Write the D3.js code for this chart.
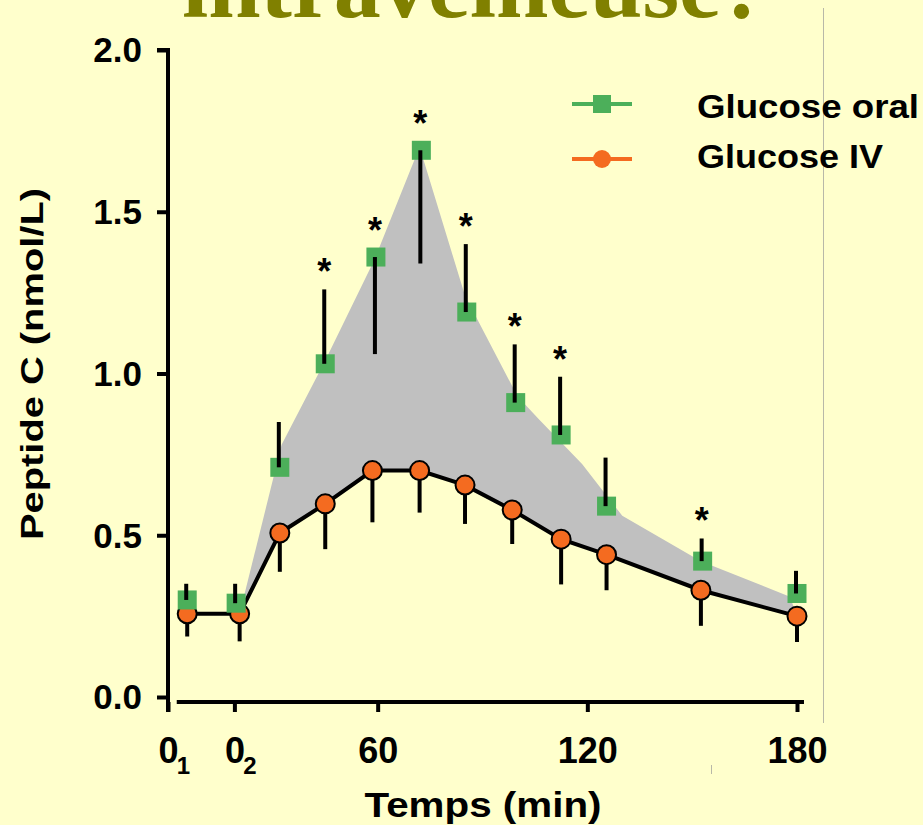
<!DOCTYPE html>
<meta charset="utf-8" />
<style>
  body { margin: 0; background: #ffffcc; }
  svg { display: block; }
  text { font-family: "Liberation Sans", Arial, sans-serif; font-weight: bold; }
</style>
<body>
  <div id="grafico"></div>
  <script src="https://cdn.jsdelivr.net/npm/d3@7"></script>
  <script>
    // temps (min) de chaque prelevement, valeurs en nmol/L
    var oralTimes = [5.5, 19.5, 32, 45, 59.5, 72.5, 85.5, 99.5, 112.5, 125.5, 153, 180];
    var oralMean = [0.30, 0.29, 0.71, 1.03, 1.36, 1.69, 1.19, 0.91, 0.81, 0.59, 0.42, 0.32];
    var oralErr = [0.05, 0.06, 0.14, 0.23, -0.30, -0.35, 0.21, 0.18, 0.18, 0.15, 0.07, 0.07];
    var oralSig = [0, 0, 0, 1, 1, 1, 1, 1, 1, 0, 1, 0];

    var ivTimes = [5.5, 20.5, 32, 45, 58.5, 72, 85, 98.5, 112.5, 125.5, 152.5, 180];
    var ivMean = [0.257, 0.257, 0.507, 0.597, 0.70, 0.70, 0.655, 0.578, 0.488, 0.44, 0.33, 0.25];
    var ivErr = [0.07, 0.085, 0.12, 0.14, 0.16, 0.13, 0.12, 0.105, 0.14, 0.11, 0.11, 0.08];

    // bord haut de la zone grise
    var bandTimes = [20.5, 32.5, 45, 59, 72, 85, 100, 106, 118.5, 130, 152.5, 178, 180];
    var bandUpper = [0.257, 0.78, 1.04, 1.35, 1.70, 1.24, 0.93, 0.86, 0.72, 0.56, 0.42, 0.31, 0.25];

    var yTicks = [0, 0.5, 1, 1.5, 2];
    var xTicks = [0, 19, 60, 120, 180];
    var xTickLabels = ["0_1", "0_2", "60", "120", "180"];
    var series = ["Glucose oral", "Glucose IV"];

    var vert = "#4caf5a";
    var orange = "#f46b20";
    var gris = "#c0c0c0";

    var svg = d3.select("#grafico").append("svg")
      .attr("width", 923).attr("height", 825);

    svg.append("rect").attr("width", 923).attr("height", 825).attr("fill", "#ffffcc");

    function fit(sel, w) {
      sel.attr("textLength", w).attr("lengthAdjust", "spacingAndGlyphs");
    }

    // titre de la diapo, coupe en haut
    svg.append("text")
      .attr("x", 182).attr("y", 17)
      .style("font-family", "'Liberation Serif', 'Times New Roman', serif")
      .attr("font-size", 94)
      .attr("fill", "#808000")
      .text("intraveineuse?")
      .call(fit, 586);

    // traits gris de la diapo
    svg.append("line").attr("x1", 823.5).attr("x2", 823.5).attr("y1", 8).attr("y2", 723)
      .attr("stroke", "#b8b8a8").attr("stroke-width", 1);
    svg.append("line").attr("x1", 711.5).attr("x2", 711.5).attr("y1", 765).attr("y2", 774)
      .attr("stroke", "#b8b8a8").attr("stroke-width", 1);

    var x = d3.scaleLinear().domain([0, 180]).range([168, 797]);
    var y = d3.scaleLinear().domain([0, 2]).range([697, 50]);

    // zone grise entre les deux courbes
    var bandPts = bandTimes.map(function (t, i) { return [x(t), y(bandUpper[i])]; });
    var lowPts = [];
    for (var i = ivTimes.length - 1; i >= 1; i--) lowPts.push([x(ivTimes[i]), y(ivMean[i])]);
    svg.append("path")
      .attr("d", d3.line()(bandPts.concat(lowPts)) + "Z")
      .attr("fill", gris);

    // axe Y
    var gy = svg.append("g")
      .attr("transform", "translate(168,0)")
      .call(d3.axisLeft(y).tickValues(yTicks).tickSize(11).tickPadding(15).tickFormat(d3.format(".1f")));
    gy.selectAll("path, line").attr("stroke", "#000").attr("stroke-width", 4);
    gy.select(".domain").attr("d", "M-11," + y(2) + "H0V" + y(0));
    gy.selectAll(".tick text").attr("font-size", 35).attr("fill", "#000").attr("dy", "0.34em");
    gy.append("line").attr("x1", 0).attr("x2", 0).attr("y1", y(0)).attr("y2", 712)
      .attr("stroke", "#000").attr("stroke-width", 4);

    // axe X
    var gx = svg.append("g")
      .attr("transform", "translate(0,702)")
      .call(d3.axisBottom(x).tickValues(xTicks).tickSize(10).tickFormat(""));
    gx.select(".domain").remove();
    gx.selectAll("line").attr("stroke", "#000").attr("stroke-width", 4);
    gx.append("line").attr("x1", x(2.5)).attr("x2", x(182)).attr("y1", 0).attr("y2", 0)
      .attr("stroke", "#000").attr("stroke-width", 4);
    gx.selectAll(".tick").each(function (d, i) {
      var parts = xTickLabels[i].split("_");
      var g = d3.select(this);
      g.select("text").remove();
      g.append("text").attr("y", 61).attr("text-anchor", "middle")
        .attr("font-size", 36).attr("fill", "#000").text(parts[0]);
      if (parts[1]) {
        g.append("text").attr("x", 15).attr("y", 72)
          .attr("font-size", 24).attr("fill", "#000").text(parts[1]);
      }
    });

    // titres des axes
    svg.append("text")
      .attr("x", 483).attr("y", 817).attr("text-anchor", "middle")
      .attr("font-size", 35).attr("fill", "#000")
      .text("Temps (min)")
      .call(fit, 237);
    svg.append("text")
      .attr("transform", "translate(43,364) rotate(-90)")
      .attr("text-anchor", "middle")
      .attr("font-size", 31).attr("fill", "#000")
      .text("Peptide C (nmol/L)")
      .call(fit, 352);

    // courbe IV
    var iv = ivTimes.map(function (t, i) { return { t: t, v: ivMean[i], e: ivErr[i] }; });
    svg.append("path")
      .datum(iv)
      .attr("d", d3.line().x(function (d) { return x(d.t); }).y(function (d) { return y(d.v); }))
      .attr("fill", "none").attr("stroke", "#000").attr("stroke-width", 4);
    svg.selectAll(".errIV").data(iv).enter().append("line")
      .attr("x1", function (d) { return x(d.t); })
      .attr("x2", function (d) { return x(d.t); })
      .attr("y1", function (d) { return y(d.v); })
      .attr("y2", function (d) { return y(d.v - d.e); })
      .attr("stroke", "#000").attr("stroke-width", 4);
    svg.selectAll(".ptIV").data(iv).enter().append("circle")
      .attr("cx", function (d) { return x(d.t); })
      .attr("cy", function (d) { return y(d.v); })
      .attr("r", 9.5)
      .attr("fill", orange).attr("stroke", "#000").attr("stroke-width", 2);

    // points oral
    var oral = oralTimes.map(function (t, i) { return { t: t, v: oralMean[i], e: oralErr[i], s: oralSig[i] }; });
    svg.selectAll(".ptOral").data(oral).enter().append("rect")
      .attr("x", function (d) { return x(d.t) - 9.5; })
      .attr("y", function (d) { return y(d.v) - 9.5; })
      .attr("width", 19).attr("height", 19)
      .attr("fill", vert);
    svg.selectAll(".errOral").data(oral).enter().append("line")
      .attr("x1", function (d) { return x(d.t) - 1; })
      .attr("x2", function (d) { return x(d.t) - 1; })
      .attr("y1", function (d) { return y(d.v); })
      .attr("y2", function (d) { return y(d.v + d.e); })
      .attr("stroke", "#000").attr("stroke-width", 4);

    // etoiles de significativite
    svg.selectAll(".sig").data(oral.filter(function (d) { return d.s; })).enter().append("text")
      .attr("x", function (d) { return x(d.t) - 1; })
      .attr("y", function (d) {
        var top = Math.min(y(d.v) - 9.5, y(d.v + d.e));
        return top - 25 + 20;
      })
      .attr("text-anchor", "middle")
      .attr("font-size", 36).attr("fill", "#000")
      .text("*");

    // legende
    var leg = svg.selectAll(".leg").data(series).enter().append("g")
      .attr("transform", function (d, i) { return "translate(0," + (104 + i * 55) + ")"; });
    leg.append("line").attr("x1", 572).attr("x2", 632)
      .attr("stroke", function (d, i) { return i ? orange : vert; }).attr("stroke-width", 4);
    leg.filter(function (d, i) { return i === 0; }).append("rect")
      .attr("x", 593).attr("y", -9).attr("width", 18).attr("height", 18).attr("fill", vert);
    leg.filter(function (d, i) { return i === 1; }).append("circle")
      .attr("cx", 602).attr("cy", 0).attr("r", 9).attr("fill", orange);
    leg.append("text")
      .attr("x", 697).attr("y", function (d, i) { return i ? 9 : 14; })
      .attr("font-size", 33).attr("fill", "#000")
      .text(function (d) { return d; })
      .each(function (d, i) { d3.select(this).call(fit, i ? 186 : 222); });
  </script>
</body>
